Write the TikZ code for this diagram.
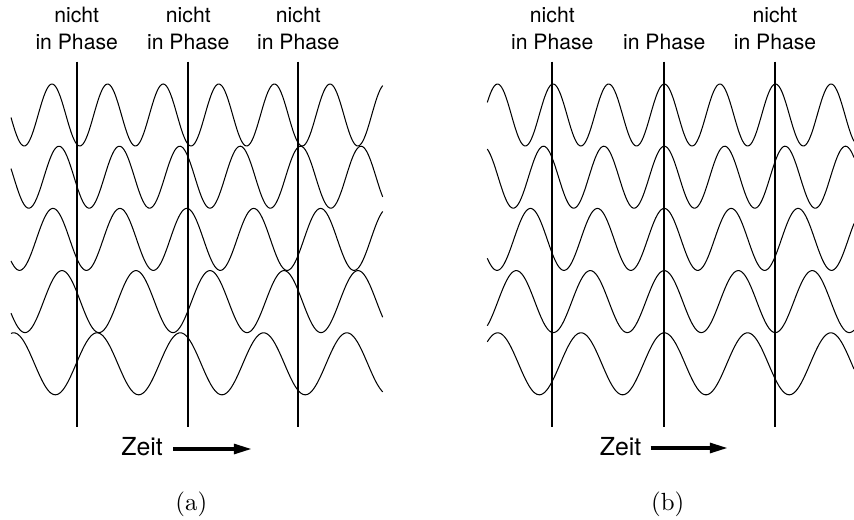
\documentclass[tikz,border=0pt]{standalone}
\usepackage{fontspec}
\setsansfont{TeX Gyre Heros}
\usetikzlibrary{arrows.meta}
\begin{document}
\begin{tikzpicture}[x=0.4348pt,y=-0.4348pt,
  wave/.style={line width=0.45pt,line join=round},
  vline/.style={line width=0.95pt},
  lbl/.style={font=\sffamily\fontsize{9.2}{11}\selectfont,inner sep=0pt,anchor=base},
  zeit/.style={font=\sffamily\fontsize{10.8}{13}\selectfont,inner sep=0pt,anchor=base west},
  tarrow/.style={line width=1.45pt,-{Triangle[length=7.8pt,width=4.3pt]}},
  subcap/.style={font=\fontsize{10.8}{13}\selectfont,inner sep=0pt,anchor=base}]
\useasboundingbox (0,0) rectangle (854,520);
% waves
\foreach \i/\T/\pa in {0/55.6/52,1/60.4/59,2/66.9/53,3/74.0/62,4/83.3/97}{
  \pgfmathsetmacro{\k}{360/\T}
  \draw[wave] plot[smooth,domain=11:382.7,samples=260]
    (\x,{115+62.2*\i-31*cos(\k*(\x-\pa))});
  \draw[wave] plot[smooth,domain=487.3:854,samples=260]
    (\x,{115+62.2*\i-31*cos(\k*(\x-664.3))});
}
% vertical lines
\foreach \n/\xx in {a1/76.7,a2/188.3,a3/298.3,b1/552.3,b2/664.3,b3/775}{
  \coordinate (\n top) at (\xx,61.7);
  \coordinate (\n bot) at (\xx,426.7);
  \draw[vline] (\n top) -- (\n bot);
}
% labels (a)
\node[lbl] (na1) at (76.7,22.7) {nicht};
\node[lbl] (pa1) at (76.7,50) {in Phase};
\node[lbl] (na2) at (188.3,22.7) {nicht};
\node[lbl] (pa2) at (188.3,50) {in Phase};
\node[lbl] (na3) at (298.3,22.7) {nicht};
\node[lbl] (pa3) at (298.3,50) {in Phase};
% labels (b)
\node[lbl] (nb1) at (552.3,22.7) {nicht};
\node[lbl] (pb1) at (552.3,50) {in Phase};
\node[lbl] (pb2) at (664.3,50) {in Phase};
\node[lbl] (nb3) at (775,22.7) {nicht};
\node[lbl] (pb3) at (775,50) {in Phase};
% time arrows
\node[zeit] (za) at (121,455) {Zeit};
\coordinate (za1) at (173.3,449);
\coordinate (za2) at (251.7,449);
\draw[tarrow] (za1) -- (za2);
\node[zeit] (zb) at (599.5,455.5) {Zeit};
\coordinate (zb1) at (650.7,448);
\coordinate (zb2) at (727.7,448);
\draw[tarrow] (zb1) -- (zb2);
% captions
\node[subcap] (capa) at (191.3,510) {(a)};
\node[subcap] (capb) at (667.8,510) {(b)};
\end{tikzpicture}
\end{document}
